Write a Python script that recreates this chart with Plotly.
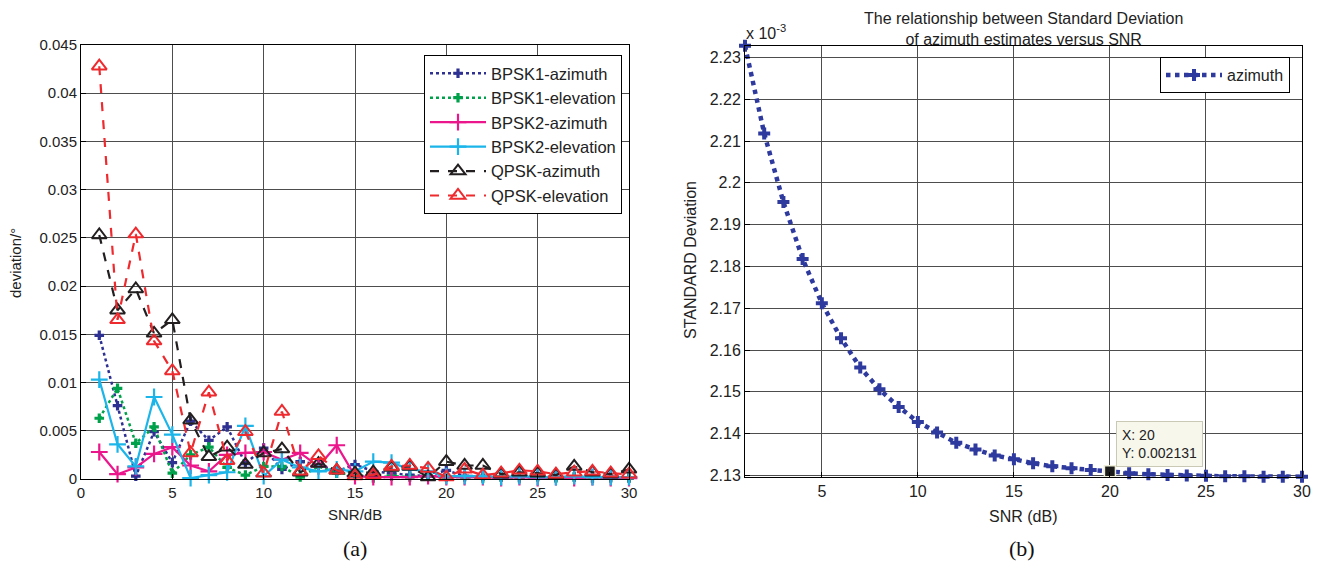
import plotly.graph_objects as go

# ---------------- data ----------------
snr = list(range(1, 31))

bpsk1_az = [0.0149, 0.0076, 0.0003, 0.0049, 0.0017, 0.0060, 0.0040, 0.0054, 0.0016, 0.0032,
            0.0010, 0.0018, 0.0015, 0.0008, 0.0015, 0.0008, 0.0006, 0.0004, 0.0003, 0.0009,
            0.0003, 0.0003, 0.0002, 0.0002, 0.0003, 0.0002, 0.0002, 0.0001, 0.0002, 0.0001]
bpsk1_el = [0.0063, 0.0094, 0.0037, 0.0054, 0.0006, 0.0025, 0.0033, 0.0012, 0.0004, 0.0013,
            0.0013, 0.0002, 0.0013, 0.0006, 0.0005, 0.0001, 0.0003, 0.0002, 0.0003, 0.0002,
            0.0002, 0.0001, 0.0002, 0.0001, 0.0002, 0.0001, 0.0002, 0.0001, 0.0001, 0.0001]
bpsk2_az = [0.0028, 0.0005, 0.0012, 0.0026, 0.0033, 0.0014, 0.0008, 0.0025, 0.0027, 0.0028,
            0.0020, 0.0027, 0.0013, 0.0035, 0.0003, 0.0002, 0.0002, 0.0002, 0.0003, 0.0002,
            0.0002, 0.0002, 0.0001, 0.0002, 0.0001, 0.0002, 0.0001, 0.0002, 0.0001, 0.0001]
bpsk2_el = [0.0103, 0.0036, 0.0013, 0.0085, 0.0046, 0.0001, 0.0004, 0.0007, 0.0055, 0.0003,
            0.0020, 0.0012, 0.0008, 0.0010, 0.0008, 0.0018, 0.0017, 0.0010, 0.0008, 0.0003,
            0.0003, 0.0003, 0.0002, 0.0003, 0.0002, 0.0002, 0.0003, 0.0002, 0.0002, 0.0002]
qpsk_az = [0.0253, 0.0175, 0.0197, 0.0151, 0.0165, 0.0061, 0.0023, 0.0033, 0.0015, 0.0027,
           0.0031, 0.0007, 0.0016, 0.0009, 0.0006, 0.0007, 0.0012, 0.0013, 0.0002, 0.0018,
           0.0014, 0.0014, 0.0005, 0.0007, 0.0006, 0.0004, 0.0013, 0.0007, 0.0005, 0.0010]
qpsk_el = [0.0428, 0.0165, 0.0254, 0.0143, 0.0112, 0.0027, 0.0090, 0.0019, 0.0049, 0.0006,
           0.0070, 0.0008, 0.0024, 0.0009, 0.0003, 0.0004, 0.0013, 0.0014, 0.0011, 0.0002,
           0.0010, 0.0004, 0.0006, 0.0009, 0.0008, 0.0005, 0.0007, 0.0008, 0.0006, 0.0005]

left_yticks = [0, 0.005, 0.01, 0.015, 0.02, 0.025, 0.03, 0.035, 0.04, 0.045]
left_yticktext = ["0", "0.005", "0.01", "0.015", "0.02", "0.025", "0.03", "0.035", "0.04", "0.045"]
left_xticks = [0, 5, 10, 15, 20, 25, 30]

# standard deviation of azimuth estimates, in units of 1e-3
az_std_e3 = [2.2328, 2.2118, 2.1954, 2.1818, 2.1712, 2.1628, 2.1558, 2.1506, 2.1464, 2.1428,
             2.1403, 2.1378, 2.1362, 2.1348, 2.1339, 2.1329, 2.1322, 2.1317, 2.1313, 2.1310,
             2.1305, 2.1303, 2.1301, 2.1300, 2.1299, 2.1298, 2.1298, 2.1297, 2.1297, 2.1297]
right_yticks_e3 = [2.13, 2.14, 2.15, 2.16, 2.17, 2.18, 2.19, 2.20, 2.21, 2.22, 2.23]
right_yticktext = ["2.13", "2.14", "2.15", "2.16", "2.17", "2.18", "2.19", "2.2", "2.21", "2.22", "2.23"]
right_xticks = [5, 10, 15, 20, 25, 30]
tip_x = 20
tip_y = 0.002131

az_std = [v * 1e-3 for v in az_std_e3]

W, H = 1320, 563
OFF = 8  # page body margin
FONT = "Liberation Sans, Arial, sans-serif"

fig = go.Figure()

left_series = [
    ("BPSK1-azimuth", bpsk1_az, "#2E3192", "dot", 2.5, dict(symbol="cross", size=8)),
    ("BPSK1-elevation", bpsk1_el, "#00A14B", "dot", 2.5, dict(symbol="cross", size=8)),
    ("BPSK2-azimuth", bpsk2_az, "#EC168C", "solid", 2.2, dict(symbol="cross-thin-open", size=12, line=dict(width=2.2))),
    ("BPSK2-elevation", bpsk2_el, "#1CB5EA", "solid", 2.2, dict(symbol="cross-thin-open", size=12, line=dict(width=2.2))),
    ("QPSK-azimuth", qpsk_az, "#231F20", "dash", 2.2, dict(symbol="triangle-up-open", size=13, line=dict(width=2))),
    ("QPSK-elevation", qpsk_el, "#EE2A2F", "dash", 2.2, dict(symbol="triangle-up-open", size=13, line=dict(width=2))),
]
for name, ys, col, dash, lw, mk in left_series:
    mk = dict(mk)
    mk["color"] = col
    if "line" in mk:
        mk["line"] = dict(mk["line"], color=col)
    fig.add_trace(go.Scatter(
        x=snr, y=ys, name=name, mode="lines+markers",
        line=dict(color=col, dash=dash, width=lw), marker=mk,
        xaxis="x", yaxis="y", legend="legend", cliponaxis=False))

fig.add_trace(go.Scatter(
    x=snr, y=az_std, name="azimuth", mode="lines+markers",
    line=dict(color="#2E3A9E", dash="dot", width=4.5),
    marker=dict(symbol="cross", size=10, color="#2E3A9E"),
    xaxis="x2", yaxis="y2", legend="legend2", cliponaxis=False))

fig.add_trace(go.Scatter(
    x=[tip_x], y=[tip_y], mode="markers", showlegend=False,
    marker=dict(symbol="square", size=11, color="#1a1a1a", line=dict(color="#EDEDD8", width=1.5)),
    xaxis="x2", yaxis="y2", cliponaxis=False))

def px_x(p):
    return (p - OFF) / W

def px_y(p):
    return (H - (p - OFF)) / H

axis_common = dict(showline=True, linecolor="black", linewidth=1, mirror=True,
                   ticks="inside", ticklen=5, tickcolor="black",
                   showgrid=True, gridcolor="#4d4d4d", gridwidth=1, zeroline=False,
                   automargin=False,
                   tickfont=dict(family=FONT, size=15, color="#222"))

fig.update_layout(
    width=W, height=H, autosize=False,
    margin=dict(l=0, r=0, t=0, b=0, pad=0, autoexpand=False),
    paper_bgcolor="white", plot_bgcolor="white",
    xaxis=dict(axis_common, domain=[px_x(81), px_x(629)], range=[0, 30],
               tickvals=left_xticks, anchor="y"),
    yaxis=dict(axis_common, domain=[px_y(479), px_y(45)], range=[0, 0.045],
               tickvals=left_yticks, ticktext=left_yticktext, anchor="x"),
    xaxis2=dict(axis_common, domain=[px_x(745), px_x(1302)], range=[1, 30],
                tickvals=right_xticks, anchor="y2",
                tickfont=dict(family=FONT, size=16, color="#222")),
    yaxis2=dict(axis_common, domain=[px_y(476.7), px_y(45.7)],
                range=[2.1297e-3, 2.2328e-3],
                tickvals=[v * 1e-3 for v in right_yticks_e3], ticktext=right_yticktext,
                anchor="x2", tickfont=dict(family=FONT, size=16, color="#222")),
    legend=dict(x=px_x(424), y=px_y(55), xanchor="left", yanchor="top",
                bgcolor="white", bordercolor="black", borderwidth=1,
                font=dict(family=FONT, size=16.5, color="#222"),
                itemwidth=56, tracegroupgap=0),
    legend2=dict(x=px_x(1160), y=px_y(57), xanchor="left", yanchor="top",
                 bgcolor="white", bordercolor="black", borderwidth=1,
                 font=dict(family=FONT, size=16, color="#222"), itemwidth=56),
    showlegend=True,
)

annotations = [
    dict(text="deviation/°", x=px_x(15), y=px_y(263), textangle=-90,
         font=dict(family=FONT, size=15, color="#222")),
    dict(text="SNR/dB", x=px_x(355), y=px_y(514),
         font=dict(family=FONT, size=15, color="#222")),
    dict(text="STANDARD Deviation", x=px_x(690), y=px_y(260), textangle=-90,
         font=dict(family=FONT, size=16, color="#222")),
    dict(text="SNR (dB)", x=px_x(1023), y=px_y(516),
         font=dict(family=FONT, size=16, color="#222")),
    dict(text="The relationship between Standard Deviation<br>of azimuth estimates versus SNR",
         x=px_x(1023), y=1.0, yanchor="top",
         font=dict(family=FONT, size=16, color="#222")),
    dict(text="x 10<sup>-3</sup>", x=px_x(744), y=px_y(32), xanchor="left",
         font=dict(family=FONT, size=16, color="#222")),
    dict(text="(a)", x=px_x(355), y=px_y(548),
         font=dict(family="Liberation Serif, Times New Roman, serif", size=22, color="#111")),
    dict(text="(b)", x=px_x(1022), y=px_y(548),
         font=dict(family="Liberation Serif, Times New Roman, serif", size=22, color="#111")),
]
for a in annotations:
    a.update(xref="paper", yref="paper", showarrow=False)
    a.setdefault("xanchor", "center")
    a.setdefault("yanchor", "middle")
    fig.add_annotation(**a)

fig.add_annotation(
    text="X: 20<br>Y: 0.002131", x=tip_x, y=tip_y, xref="x2", yref="y2",
    xanchor="left", yanchor="bottom", xshift=6, yshift=4, showarrow=False,
    align="left", bgcolor="#F7F7EC", bordercolor="#C9C9B6", borderwidth=1, borderpad=5,
    font=dict(family=FONT, size=14, color="#222"))

fig.write_html("out.html")
